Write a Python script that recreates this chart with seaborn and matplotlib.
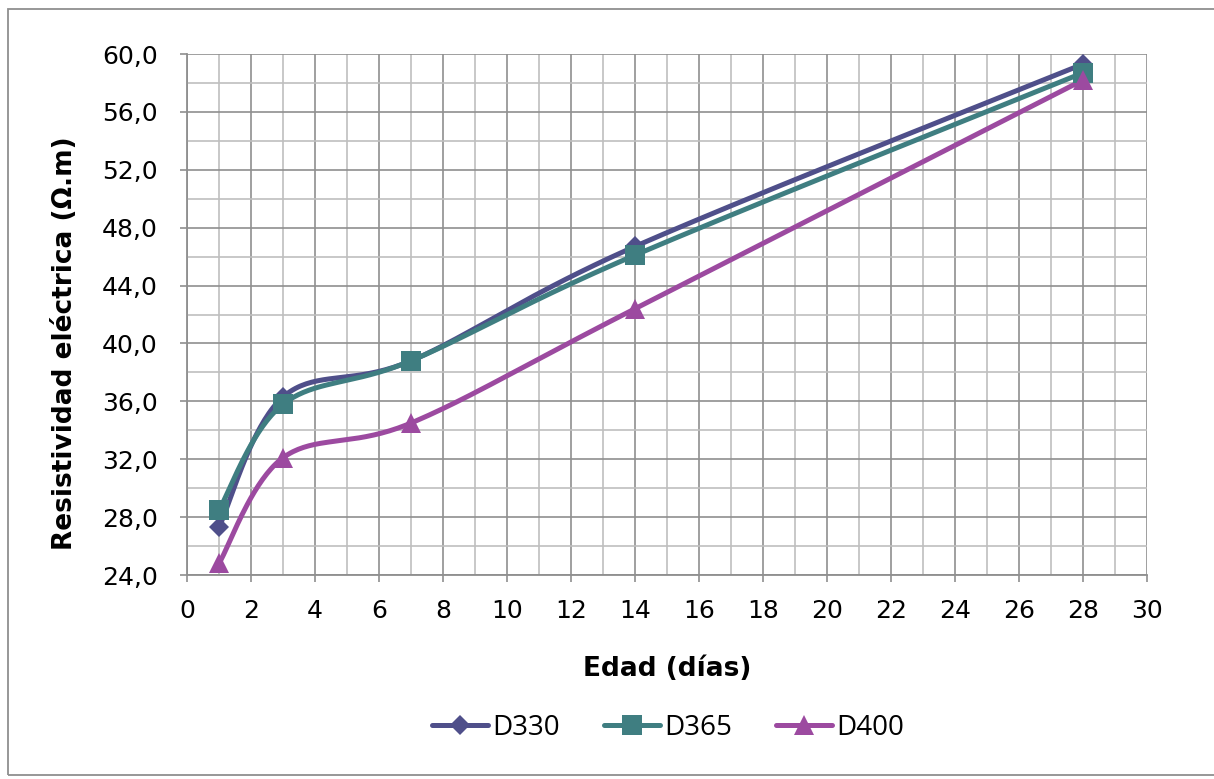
import numpy as np
import pandas as pd
import matplotlib
matplotlib.use("Agg")
import matplotlib.pyplot as plt
import seaborn as sns
from matplotlib.lines import Line2D
from matplotlib.patches import Rectangle
from matplotlib.ticker import MultipleLocator, FuncFormatter

days = [1, 3, 7, 14, 28]
d330 = [27.3, 36.3, 38.8, 46.7, 59.3]
d365 = [28.5, 35.8, 38.8, 46.1, 58.7]
d400 = [24.8, 32.1, 34.5, 42.4, 58.2]
series_names = ["D330", "D365", "D400"]
colors = {"D330": "#4F4F8A", "D365": "#3F7E81", "D400": "#9C4AA0"}
markers = {"D330": "D", "D365": "s", "D400": "^"}
msizes = {"D330": 10.5, "D365": 14.5, "D400": 15}


def excel_smooth(x, y, n=40):
    x = np.asarray(x, float)
    y = np.asarray(y, float)
    px = np.concatenate([[x[0]], x, [x[-1]]])
    py = np.concatenate([[y[0]], y, [y[-1]]])
    xs, ys = [], []
    t = np.linspace(0, 1, n)
    for i in range(1, len(px) - 2):
        p0 = np.array([px[i], py[i]])
        p3 = np.array([px[i + 1], py[i + 1]])
        c1 = p0 + (np.array([px[i + 1], py[i + 1]]) - np.array([px[i - 1], py[i - 1]])) / 6
        c2 = p3 - (np.array([px[i + 2], py[i + 2]]) - np.array([px[i], py[i]])) / 6
        b = ((1 - t) ** 3)[:, None] * p0 + (3 * (1 - t) ** 2 * t)[:, None] * c1 \
            + (3 * (1 - t) * t ** 2)[:, None] * c2 + (t ** 3)[:, None] * p3
        xs.extend(b[:, 0])
        ys.extend(b[:, 1])
    return np.array(xs), np.array(ys)


sns.set_theme(style="white")
plt.rcParams["font.family"] = ["DejaVu Sans"]
plt.rcParams["text.color"] = "black"
plt.rcParams["axes.labelcolor"] = "black"

fig = plt.figure(figsize=(12.14, 7.79), dpi=100)
ax = fig.add_axes([187 / 1214, 1 - 575 / 779, (1147 - 187) / 1214, (575 - 54) / 779])

data = {"D330": d330, "D365": d365, "D400": d400}
rows = []
for name in series_names:
    sx, sy = excel_smooth(days, data[name])
    for a, b in zip(sx, sy):
        rows.append({"x": a, "y": b, "serie": name})
df_s = pd.DataFrame(rows)
pts = pd.DataFrame([{"x": d, "y": v, "serie": name}
                    for name in series_names for d, v in zip(days, data[name])])

for name in series_names:
    sub = df_s[df_s.serie == name]
    sns.lineplot(data=sub, x="x", y="y", sort=False, color=colors[name], lw=3.6,
                 ax=ax, legend=False, zorder=3, estimator=None)
for name in series_names:
    sub = pts[pts.serie == name]
    ax.plot(sub.x, sub.y, ls="none", marker=markers[name], ms=msizes[name],
            color=colors[name], zorder=4, markeredgewidth=0)

ax.set_xlim(0, 30)
ax.set_ylim(24, 60)
ax.xaxis.set_major_locator(MultipleLocator(2))
ax.xaxis.set_minor_locator(MultipleLocator(1))
ax.yaxis.set_major_locator(MultipleLocator(4))
ax.yaxis.set_minor_locator(MultipleLocator(2))
ax.yaxis.set_major_formatter(FuncFormatter(lambda v, p: f"{v:.1f}".replace(".", ",")))
ax.grid(which="major", color="#8F8F8F", lw=1.2, zorder=0)
ax.grid(which="minor", color="#BFBFBF", lw=1.2, zorder=0)
ax.set_axisbelow(True)
for s in ["top", "right"]:
    ax.spines[s].set_visible(False)
for s in ["left", "bottom"]:
    ax.spines[s].set_color("#8F8F8F")
    ax.spines[s].set_linewidth(1.3)
ax.tick_params(axis="both", which="major", direction="out", length=5, width=1.2,
               color="#8F8F8F", labelsize=18, labelcolor="black")
ax.tick_params(axis="both", which="minor", length=0)
ax.tick_params(axis="x", which="major", bottom=True, pad=12)
ax.tick_params(axis="y", which="major", left=True, pad=16)

ax.set_xlabel("Edad (días)", fontsize=19, fontweight="bold", labelpad=24)
ax.set_ylabel("Resistividad eléctrica (Ω.m)", fontsize=19, fontweight="bold")
ax.yaxis.set_label_coords((78 - 187) / 960, (575 - 343) / 521)

handles = [Line2D([0], [0], color=colors[n], lw=3.6, marker=markers[n], ms=msizes[n],
                  markeredgewidth=0, solid_capstyle="round") for n in series_names]
fig.legend(handles, series_names, loc="center", bbox_to_anchor=(668 / 1214, 1 - 728 / 779),
           ncol=3, frameon=False, handlelength=2.0, handletextpad=0.15,
           columnspacing=1.6, prop={"family": "Open Sans", "size": 20})

fig.patches.append(Rectangle((8 / 1214, 1 - 775 / 779), 1.0, (775 - 9) / 779,
                             transform=fig.transFigure, fill=False, edgecolor="#8F8F8F",
                             lw=1.3))
fig.savefig("out.png", dpi=100)
